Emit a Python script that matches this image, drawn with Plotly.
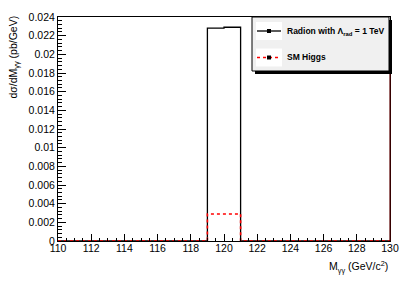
import plotly.graph_objects as go

# ---- data ----
bin_edges = list(range(110, 131))  # 1 GeV bins
radion_vals = [0]*9 + [0.0228, 0.0229] + [0]*9
higgs_vals = [0]*9 + [0.0029, 0.0029] + [0]*9
legend_labels = ["Radion with Λ<sub>rad</sub> = 1 TeV", "SM Higgs"]
x_title = "M<sub>γγ</sub> (GeV/c<sup>2</sup>)"
y_title = "dσ/dM<sub>γγ</sub> (pb/GeV)"

OFF = 8  # page body margin offset
W, H = 415 - OFF, 281 - OFF
L, R, T, B = 58 - OFF, 390 - OFF, 17 - OFF, 241 - OFF  # plot area in figure px

def px(x):  # x given in page px
    return (x - OFF - L) / (R - L)

def py(y):
    return (B - (y - OFF)) / (B - T)

xs = bin_edges[:-1] + [bin_edges[-1]]
fig = go.Figure()
fig.add_trace(go.Scatter(x=xs, y=radion_vals + [radion_vals[-1]], mode="lines",
                         line=dict(color="black", width=1.3, shape="hv"),
                         showlegend=False))
fig.add_trace(go.Scatter(x=xs, y=higgs_vals + [higgs_vals[-1]], mode="lines",
                         line=dict(color="#ff0000", width=1.6, shape="hv", dash="dot"),
                         showlegend=False))

font = "Liberation Sans, Arial, sans-serif"
fig.update_layout(
    width=W, height=H,
    margin=dict(l=L, r=W - R, t=T, b=H - B, autoexpand=False),
    plot_bgcolor="white", paper_bgcolor="white",
    showlegend=False,
    font=dict(family=font, color="black", size=10.5),
    xaxis=dict(range=[110, 130], tickmode="linear", tick0=110, dtick=2,
               ticks="inside", ticklen=7, tickwidth=1, tickcolor="black",
               minor=dict(ticks="inside", ticklen=3.5, dtick=0.5, tickcolor="black"),
               showline=True, linecolor="black", linewidth=1, mirror=True,
               showgrid=False, zeroline=False, tickfont=dict(size=10.5),
               ticklabelstandoff=-3),
    yaxis=dict(range=[0, 0.024], tickmode="linear", tick0=0, dtick=0.002,
               ticks="inside", ticklen=8, tickwidth=1, tickcolor="black",
               minor=dict(ticks="inside", ticklen=4, dtick=0.0004, tickcolor="black"),
               showline=True, linecolor="black", linewidth=1, mirror=True,
               showgrid=False, zeroline=False, tickfont=dict(size=10.5),
               tickformat="~g"),
)

shapes = []
# right frame edge (dark red in reference)
shapes.append(dict(type="line", xref="paper", yref="paper", x0=1, x1=1, y0=0, y1=py(72),
                   line=dict(color="#5a0000", width=1.2)))
# legend shadow + box
shapes.append(dict(type="rect", xref="paper", yref="paper",
                   x0=px(255), x1=px(392), y0=py(74), y1=py(20),
                   fillcolor="black", line=dict(width=0), layer="above"))
shapes.append(dict(type="rect", xref="paper", yref="paper",
                   x0=px(252), x1=px(389), y0=py(71), y1=py(17),
                   fillcolor="#f0f0f0", line=dict(color="black", width=1), layer="above"))
entry_y = [31, 57.5]
styles = [dict(color="black", width=1.3), dict(color="#ff0000", width=1.6, dash="dot")]
for yy, st in zip(entry_y, styles):
    shapes.append(dict(type="rect", xref="paper", yref="paper",
                       x0=px(256), x1=px(282), y0=py(yy + 9), y1=py(yy - 9),
                       fillcolor="white", line=dict(width=0), layer="above"))
    shapes.append(dict(type="line", xref="paper", yref="paper",
                       x0=px(257), x1=px(281), y0=py(yy), y1=py(yy),
                       line=st, layer="above"))
    shapes.append(dict(type="rect", xref="paper", yref="paper",
                       x0=px(267), x1=px(271), y0=py(yy + 2), y1=py(yy - 2),
                       fillcolor="black", line=dict(width=0), layer="above"))
fig.update_layout(shapes=shapes)

ann = []
for yy, lab in zip(entry_y, legend_labels):
    ann.append(dict(xref="paper", yref="paper", x=px(285), y=py(yy), text="<b>%s</b>" % lab,
                    showarrow=False, xanchor="left", yanchor="middle",
                    font=dict(size=8.5, family=font)))
ann.append(dict(xref="paper", yref="paper", x=1, y=py(267), text=x_title,
                showarrow=False, xanchor="right", yanchor="middle",
                font=dict(size=10.5, family=font)))
ann.append(dict(xref="paper", yref="paper", x=px(14), y=py(14), text=y_title,
                showarrow=False, xanchor="center", yanchor="top", textangle=-90,
                font=dict(size=10.5, family=font)))
fig.update_layout(annotations=ann)

fig.write_html("out.html")
